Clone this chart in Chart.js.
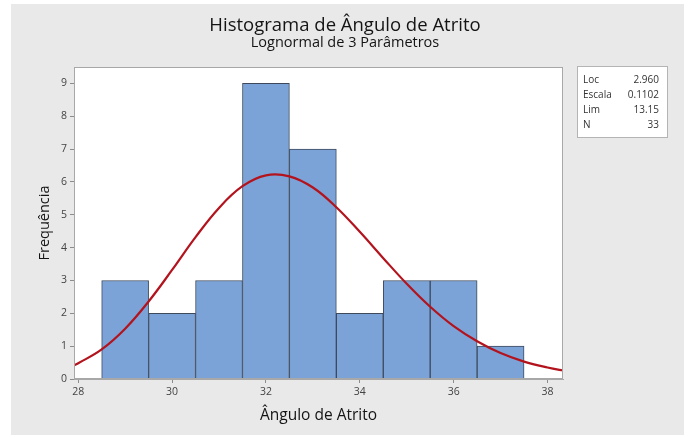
<!DOCTYPE html>
<html>
<head>
<meta charset="utf-8">
<script src="https://cdn.jsdelivr.net/npm/chart.js@4"></script>
<style>
  html, body { margin: 0; padding: 0; background: #ffffff; }
  #wrap { width: 691px; height: 437px; }
</style>
</head>
<body>
<div id="wrap"><canvas id="histChart" width="691" height="437"></canvas></div>
<script>
// classes do histograma (centro de cada barra) e frequências
const binCenters = [29, 30, 31, 32, 33, 34, 35, 36, 37];
const frequencies = [3, 2, 3, 9, 7, 2, 3, 3, 1];

// curva lognormal ajustada
const curveX = [27.9, 28, 28.5, 29, 29.5, 30, 30.5, 31, 31.5, 32, 32.5, 33, 33.5, 34, 34.5, 35, 35.5, 36, 36.5, 37, 37.5, 38, 38.4];
const curveY = [0.41, 0.48, 0.90, 1.53, 2.36, 3.32, 4.32, 5.21, 5.87, 6.20, 6.17, 5.83, 5.23, 4.48, 3.68, 2.90, 2.20, 1.61, 1.15, 0.79, 0.53, 0.35, 0.24];

const xTicks = [28, 30, 32, 34, 36, 38];
const yTicks = [0, 1, 2, 3, 4, 5, 6, 7, 8, 9];

const statLabels = ['Loc', 'Escala', 'Lim', 'N'];
const statValues = ['2.960', '0.1102', '13.15', '33'];

const FONT = '"Open Sans", "Noto Sans", sans-serif';

// Fundo, título e caixa de parâmetros
const decorPlugin = {
    id: 'decor',
    beforeDraw(chart) {
        const c = chart.ctx;
        const a = chart.chartArea;
        c.save();
        c.fillStyle = '#ffffff';
        c.fillRect(0, 0, chart.width, chart.height);
        c.fillStyle = '#e9e9e9';
        c.fillRect(11, 4, 673, 431);
        c.fillStyle = '#ffffff';
        c.fillRect(a.left, a.top, a.right - a.left, a.bottom - a.top);

        c.fillStyle = '#141414';
        c.textAlign = 'center';
        c.textBaseline = 'middle';
        c.font = '500 18.5px ' + FONT;
        c.fillText('Histograma de Ângulo de Atrito', 345, 26);
        c.font = '500 14.5px ' + FONT;
        c.fillText('Lognormal de 3 Parâmetros', 345, 43);

        // caixa de parâmetros
        c.fillStyle = '#ffffff';
        c.fillRect(577, 66, 90, 71);
        c.strokeStyle = '#b4b4b4';
        c.lineWidth = 1;
        c.strokeRect(577.5, 66.5, 90, 71);
        c.font = '10px ' + FONT;
        c.fillStyle = '#333333';
        statLabels.forEach((lbl, i) => {
            const y = 80 + i * 15;
            c.textAlign = 'left';
            c.fillText(lbl, 583, y);
            c.textAlign = 'right';
            c.fillText(statValues[i], 659, y);
        });
        c.restore();
    },
    afterDatasetsDraw(chart) {
        const c = chart.ctx;
        const a = chart.chartArea;
        c.save();
        c.strokeStyle = '#a8a8a8';
        c.lineWidth = 1;
        c.strokeRect(Math.round(a.left) + 0.5, Math.round(a.top) + 0.5,
            Math.round(a.right - a.left) - 1, Math.round(a.bottom - a.top) - 1);
        c.restore();
    }
};

new Chart(document.getElementById('histChart').getContext('2d'), {
    data: {
        datasets: [
            {
                type: 'line',
                data: curveX.map((x, i) => ({ x: x, y: curveY[i] })),
                borderColor: '#b3131d',
                borderWidth: 2.2,
                pointRadius: 0,
                tension: 0.4,
                fill: false,
                order: 0
            },
            {
                type: 'bar',
                data: binCenters.map((x, i) => ({ x: x, y: frequencies[i] })),
                backgroundColor: '#7ba3d8',
                borderColor: '#3e4a5c',
                borderWidth: 1,
                barPercentage: 1,
                categoryPercentage: 1,
                order: 1
            }
        ]
    },
    options: {
        responsive: false,
        animation: false,
        layout: { padding: { left: 30, right: 128, top: 67, bottom: 12 } },
        plugins: {
            legend: { display: false },
            tooltip: { enabled: false }
        },
        scales: {
            x: {
                type: 'linear',
                offset: false,
                min: 27.91,
                max: 38.33,
                afterBuildTicks: s => { s.ticks = xTicks.map(v => ({ value: v })); },
                afterFit: s => { s.height = 46; },
                grid: { offset: false, drawOnChartArea: false, drawTicks: true, tickLength: 4, color: '#8c8c8c' },
                border: { display: true, color: '#a8a8a8' },
                ticks: { padding: 3, color: '#444444', font: { family: FONT, size: 10.5 } },
                title: {
                    display: true,
                    text: 'Ângulo de Atrito',
                    color: '#141414',
                    padding: { top: 5, bottom: 0 },
                    font: { family: FONT, size: 15.5, weight: 500 }
                }
            },
            y: {
                min: 0,
                max: 9.5,
                afterBuildTicks: s => { s.ticks = yTicks.map(v => ({ value: v })); },
                afterFit: s => { s.width = 44; },
                grid: { drawOnChartArea: false, drawTicks: true, tickLength: 4, color: '#8c8c8c' },
                border: { display: true, color: '#a8a8a8' },
                ticks: { padding: 3, color: '#444444', font: { family: FONT, size: 10.5 } },
                title: {
                    display: true,
                    text: 'Frequência',
                    color: '#141414',
                    padding: { top: 6, bottom: 0 },
                    font: { family: FONT, size: 14.5, weight: 500 }
                }
            }
        }
    },
    plugins: [decorPlugin]
});
</script>
</body>
</html>
